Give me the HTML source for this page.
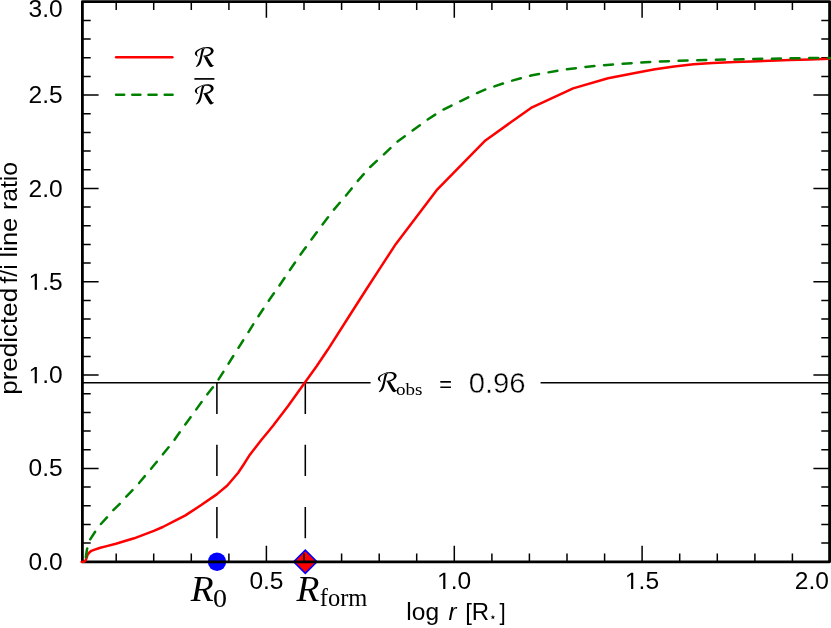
<!DOCTYPE html>
<html><head><meta charset="utf-8"><title>f/i ratio</title>
<style>html,body{margin:0;padding:0;background:#fff}svg{display:block;will-change:transform}text{font-family:"Liberation Sans",sans-serif;fill:#000}.serif{font-family:"Liberation Serif",serif}</style></head><body>
<svg width="831" height="628" viewBox="0 0 831 628">
<rect width="831" height="628" fill="#fff"/>
<g style="mix-blend-mode:multiply"><rect width="1" height="1" fill="#fff"/></g>
<circle cx="217" cy="561.7" r="9.2" fill="#0000ff"/>
<path d="M293.7 561.7 L305.3 550.1 L316.9 561.7 L305.3 573.3Z" fill="#ff0000" stroke="#0000ff" stroke-width="1.6"/>
<g stroke="#000" stroke-width="1.55" fill="none">
<path d="M82.7 382.7H370.6M540.6 382.7H829.6"/>
<path d="M216.9 382.6V561.7M305.3 382.6V561.7" stroke-dasharray="31.3 30.9"/>
</g>
<path d="M116.1 57.3H172.4" stroke="#ff0000" stroke-width="2.5" stroke-linecap="round"/>
<path d="M116.1 94.8H172.6" stroke="#008000" stroke-width="2.5" stroke-linecap="round" stroke-dasharray="8.1 8.1"/>
<path d="M116.2 561.9v-8.3M116.2 1.6v8.3M153.7 561.9v-8.3M153.7 1.6v8.3M191.3 561.9v-8.3M191.3 1.6v8.3M228.9 561.9v-8.3M228.9 1.6v8.3M266.4 561.9v-16.2M266.4 1.6v16.2M304.0 561.9v-8.3M304.0 1.6v8.3M341.6 561.9v-8.3M341.6 1.6v8.3M379.2 561.9v-8.3M379.2 1.6v8.3M416.7 561.9v-8.3M416.7 1.6v8.3M454.3 561.9v-16.2M454.3 1.6v16.2M491.9 561.9v-8.3M491.9 1.6v8.3M529.4 561.9v-8.3M529.4 1.6v8.3M567.0 561.9v-8.3M567.0 1.6v8.3M604.6 561.9v-8.3M604.6 1.6v8.3M642.1 561.9v-16.2M642.1 1.6v16.2M679.7 561.9v-8.3M679.7 1.6v8.3M717.3 561.9v-8.3M717.3 1.6v8.3M754.9 561.9v-8.3M754.9 1.6v8.3M792.4 561.9v-8.3M792.4 1.6v8.3M82.4 543.0h8.3M829.6 543.0h-8.3M82.4 524.4h8.3M829.6 524.4h-8.3M82.4 505.7h8.3M829.6 505.7h-8.3M82.4 487.0h8.3M829.6 487.0h-8.3M82.4 468.4h16.2M829.6 468.4h-16.2M82.4 449.7h8.3M829.6 449.7h-8.3M82.4 431.1h8.3M829.6 431.1h-8.3M82.4 412.4h8.3M829.6 412.4h-8.3M82.4 393.7h8.3M829.6 393.7h-8.3M82.4 375.1h16.2M829.6 375.1h-16.2M82.4 356.4h8.3M829.6 356.4h-8.3M82.4 337.7h8.3M829.6 337.7h-8.3M82.4 319.1h8.3M829.6 319.1h-8.3M82.4 300.4h8.3M829.6 300.4h-8.3M82.4 281.8h16.2M829.6 281.8h-16.2M82.4 263.1h8.3M829.6 263.1h-8.3M82.4 244.4h8.3M829.6 244.4h-8.3M82.4 225.8h8.3M829.6 225.8h-8.3M82.4 207.1h8.3M829.6 207.1h-8.3M82.4 188.4h16.2M829.6 188.4h-16.2M82.4 169.8h8.3M829.6 169.8h-8.3M82.4 151.1h8.3M829.6 151.1h-8.3M82.4 132.5h8.3M829.6 132.5h-8.3M82.4 113.8h8.3M829.6 113.8h-8.3M82.4 95.1h16.2M829.6 95.1h-16.2M82.4 76.5h8.3M829.6 76.5h-8.3M82.4 57.8h8.3M829.6 57.8h-8.3M82.4 39.1h8.3M829.6 39.1h-8.3M82.4 20.5h8.3M829.6 20.5h-8.3" stroke="#000" stroke-width="1.5" fill="none"/>
<rect x="82.40" y="1.62" width="747.20" height="560.23" fill="none" stroke="#000" stroke-width="2.8" stroke-linejoin="round"/>
<polyline points="81.6,561.9 84.6,561.5 85.8,560.2 86.6,557.8 87.4,555.2 88.8,553.0 90.8,551.2 94.0,549.9 100.3,547.8 104.8,546.6 115.9,543.7 134.1,538.3 153.8,530.9 162.8,527.0 174.7,520.8 185.0,515.6 190.0,512.4 201.6,504.8 216.7,494.4 227.3,485.5 238.2,472.8 244.0,464.0 249.9,454.7 255.5,447.4 261.1,440.2 269.8,429.7 273.6,425.0 287.9,406.2 304.9,382.5 316.6,366.3 327.7,349.8 349.9,315.0 365.9,290.0 380.9,266.9 395.9,243.9 437.4,189.3 485.4,140.4 531.0,107.9 573.1,88.4 608.0,78.3 642.9,71.4 655.0,69.3 674.2,66.4 693.5,64.3 712.7,62.9 735.0,62.0 751.0,61.4 770.0,60.8 790.0,60.0 810.0,59.4 829.8,58.8" fill="none" stroke="#ff0000" stroke-width="2.5" stroke-linecap="round" stroke-linejoin="round"/>
<polyline points="85.3,561.9 86.0,556.0 87.0,549.3 88.3,544.2 90.1,539.5 95.2,531.6 100.3,524.7 107.1,517.2 112.5,510.9 119.9,503.7 125.6,497.3 132.1,490.6 138.2,484.1 149.8,470.3 161.4,456.2 172.9,442.0 183.8,426.5 195.1,411.0 205.8,396.3 216.8,382.2 227.3,365.6 237.3,349.6 247.6,333.4 257.8,317.2 268.2,301.4 279.1,286.0 289.6,270.4 300.1,255.2 310.8,240.3 321.9,225.3 333.1,210.6 345.3,196.3 357.3,181.5 369.5,167.6 383.2,155.0 396.7,142.2 411.6,131.3 426.5,120.3 442.3,110.1 458.9,101.9 475.5,93.7 485.0,89.6 508.1,81.7 532.2,75.2 556.3,71.0 565.9,69.5 584.4,67.0 603.0,65.3 621.5,63.9 640.0,62.6 658.5,61.6 677.1,60.8 696.1,60.3 714.9,59.8 733.5,59.4 752.0,59.0 770.5,58.7 789.0,58.4 807.6,58.1 829.8,57.9" fill="none" stroke="#008000" stroke-width="2.5" stroke-dasharray="9.0 9.67" stroke-dashoffset="14.1" stroke-linecap="round" stroke-linejoin="round"/>
<text transform="translate(28.49 570.30) scale(1.0450 1)" font-size="23.50">0.0</text>
<text transform="translate(28.55 476.49) scale(1.0450 1)" font-size="23.50">0.5</text>
<g transform="translate(28.52 383.17) scale(1.0450 1)"><path d="M515 0V1237L197 1010V1180L530 1409H696V0Z" transform="scale(0.01147 -0.01147)"/><text x="13.07" y="0" font-size="23.50">.0</text></g>
<g transform="translate(28.58 289.86) scale(1.0450 1)"><path d="M515 0V1237L197 1010V1180L530 1409H696V0Z" transform="scale(0.01147 -0.01147)"/><text x="13.07" y="0" font-size="23.50">.5</text></g>
<text transform="translate(28.49 196.54) scale(1.0450 1)" font-size="23.50">2.0</text>
<text transform="translate(28.55 103.23) scale(1.0450 1)" font-size="23.50">2.5</text>
<text transform="translate(28.49 17.20) scale(1.0450 1)" font-size="23.50">3.0</text>
<text transform="translate(249.38 589.00) scale(1.0450 1)" font-size="23.50">0.5</text>
<g transform="translate(437.03 589.00) scale(1.0450 1)"><path d="M515 0V1237L197 1010V1180L530 1409H696V0Z" transform="scale(0.01147 -0.01147)"/><text x="13.07" y="0" font-size="23.50">.0</text></g>
<g transform="translate(624.91 589.00) scale(1.0450 1)"><path d="M515 0V1237L197 1010V1180L530 1409H696V0Z" transform="scale(0.01147 -0.01147)"/><text x="13.07" y="0" font-size="23.50">.5</text></g>
<text transform="translate(794.79 589.00) scale(1.0450 1)" font-size="23.50">2.0</text>
<text transform="translate(406.34 619.60) scale(1.0439 1)" font-size="23.50">log</text>
<text transform="translate(448.48 619.60) scale(1.0213 1)" font-size="23.50" font-style="italic">r</text>
<text transform="translate(465.16 619.60) scale(1.0203 1)" font-size="23.50">[R</text>
<text transform="translate(499.53 619.60) scale(0.9574 1)" font-size="23.50">]</text>
<polygon points="492.90,614.70 493.49,616.39 495.28,616.43 493.85,617.51 494.37,619.22 492.90,618.20 491.43,619.22 491.95,617.51 490.52,616.43 492.31,616.39" fill="#000"/>
<text transform="translate(17.10 394.79) rotate(-90) scale(1.1063 1)" font-size="23.50">predicted</text>
<text transform="translate(17.10 283.47) rotate(-90) scale(1.0470 1)" font-size="23.50">f/i</text>
<text transform="translate(17.10 257.42) rotate(-90) scale(1.0837 1)" font-size="23.50">line</text>
<text transform="translate(17.10 210.07) rotate(-90) scale(1.0537 1)" font-size="23.50">ratio</text>
<g transform="translate(192 45) scale(0.03823)"><path d="M150 302C110 290 75 260 75 225C75 170 150 110 300 62L300 82C200 115 128 170 128 222C128 255 140 280 160 292Z"/><path d="M285 66C340 50 420 42 470 58C530 75 568 110 566 150C564 210 500 285 360 302L300 292L292 278C400 275 490 230 494 165C496 120 460 88 400 85C370 84 345 88 325 95Z"/><path d="M258 98C245 150 228 240 212 310C195 390 170 470 130 530C118 548 105 560 98 568L108 578C150 568 195 535 222 480C248 420 262 340 280 250C295 180 312 120 335 84Z"/><path d="M302 288C330 335 370 413 410 483C436 530 463 572 490 576C520 578 555 555 578 528L570 520C555 532 540 530 525 508C490 455 440 370 398 298Z"/></g>
<g transform="translate(192 82.4) scale(0.03823)"><path d="M150 302C110 290 75 260 75 225C75 170 150 110 300 62L300 82C200 115 128 170 128 222C128 255 140 280 160 292Z"/><path d="M285 66C340 50 420 42 470 58C530 75 568 110 566 150C564 210 500 285 360 302L300 292L292 278C400 275 490 230 494 165C496 120 460 88 400 85C370 84 345 88 325 95Z"/><path d="M258 98C245 150 228 240 212 310C195 390 170 470 130 530C118 548 105 560 98 568L108 578C150 568 195 535 222 480C248 420 262 340 280 250C295 180 312 120 335 84Z"/><path d="M302 288C330 335 370 413 410 483C436 530 463 572 490 576C520 578 555 555 578 528L570 520C555 532 540 530 525 508C490 455 440 370 398 298Z"/></g>
<path d="M194.4 78.9H214.4" stroke="#000" stroke-width="1.7"/>
<g transform="translate(375 370.1) scale(0.03823)"><path d="M150 302C110 290 75 260 75 225C75 170 150 110 300 62L300 82C200 115 128 170 128 222C128 255 140 280 160 292Z"/><path d="M285 66C340 50 420 42 470 58C530 75 568 110 566 150C564 210 500 285 360 302L300 292L292 278C400 275 490 230 494 165C496 120 460 88 400 85C370 84 345 88 325 95Z"/><path d="M258 98C245 150 228 240 212 310C195 390 170 470 130 530C118 548 105 560 98 568L108 578C150 568 195 535 222 480C248 420 262 340 280 250C295 180 312 120 335 84Z"/><path d="M302 288C330 335 370 413 410 483C436 530 463 572 490 576C520 578 555 555 578 528L570 520C555 532 540 530 525 508C490 455 440 370 398 298Z"/></g>
<text class="serif" transform="translate(395.88 395.00) scale(1.1033 1)" font-size="17.30">obs</text>
<text transform="translate(439.31 391.80) scale(0.9714 1)" font-size="22.50">=</text>
<text transform="translate(468.63 392.60) scale(1.0214 1)" font-size="28.70" stroke="#fff" stroke-width="0.4">0.96</text>
<text class="serif" transform="translate(190.79 601.30) scale(1.0246 1)" font-size="36.60" font-style="italic">R</text>
<text class="serif" transform="translate(213.05 607.10) scale(1.1382 1)" font-size="24.60">0</text>
<text class="serif" transform="translate(296.59 601.30) scale(1.0246 1)" font-size="36.60" font-style="italic">R</text>
<text class="serif" transform="translate(319.76 606.30) scale(0.9921 1)" font-size="24.70">form</text>
</svg></body></html>
